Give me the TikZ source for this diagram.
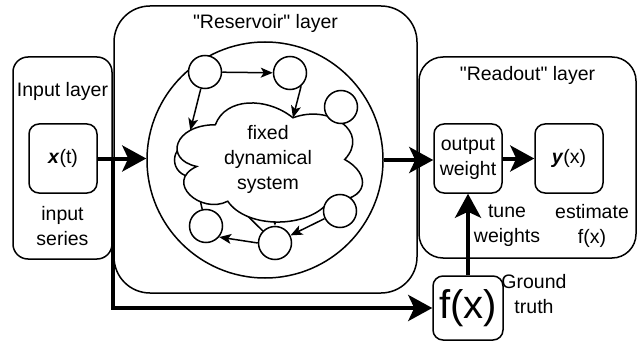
\documentclass[tikz,border=0pt]{standalone}
\usepackage{fontspec}
\setmainfont{Liberation Sans}[Ligatures=TeXOff]
\usetikzlibrary{arrows.meta}
\begin{document}
\begin{tikzpicture}[x=1pt,y=-1pt,
  txt/.style={inner sep=0pt, font=\fontsize{19.5}{25}\selectfont, align=center},
  layerbox/.style={draw, line width=1.5pt, inner sep=0pt},
  rbox/.style={draw, line width=1.5pt, rounded corners=10pt, minimum width=68pt, minimum height=69pt, inner sep=0pt, align=center, font=\fontsize{19.5}{25}\selectfont},
  nd/.style={draw, circle, line width=1.5pt, fill=white, minimum size=33pt, inner sep=0pt},
  bigarrow/.style={line width=4pt, -{Stealth[length=24pt,width=26pt,inset=6pt]}},
  smallarrow/.style={line width=1.5pt, -{Stealth[length=12pt,width=10pt,inset=3pt]}}
]
\fill[white] (0,0) rectangle (642,342);
\useasboundingbox (0,0) rectangle (642,342);

% layer boxes
\node[layerbox, rounded corners=36pt, minimum width=303pt, minimum height=287pt] (resbox) at (265.5,149.5) {};
\node[layerbox, rounded corners=15pt, minimum width=99pt, minimum height=202pt] (inbox) at (62.5,158) {};
\node[layerbox, rounded corners=24pt, minimum width=217pt, minimum height=201pt] (robox) at (527.5,157.5) {};

% layer labels
\node[txt] (tin) at (62.5,91) {Input layer};
\node[txt] (tis) at (62.5,226) {input\\series};
\node[txt] (tres) at (265.5,23) {"Reservoir" layer};
\node[txt] (tro) at (527.5,75) {"Readout" layer};
\node[txt] (ttw) at (507,226) {tune\\weights};
\node[txt] (test) at (592,226) {estimate\\f(x)};
\node[txt] (tgt) at (534,294) {Ground\\truth};

% inner boxes
\node[rbox] (xt) at (63,158.5) {\textbf{\textit{x}}(t)};
\node[rbox] (ow) at (468,158.5) {output\\weight};
\node[rbox] (yx) at (569,158.5) {\textbf{\textit{y}}(x)};
\node[rbox, minimum width=70pt, minimum height=64pt, font=\fontsize{40}{40}\selectfont] (fx) at (468,308) {f(x)};

% reservoir circle
\node[draw, circle, line width=1.5pt, minimum size=236pt, inner sep=0pt] (res) at (265,160) {};

% small nodes
\node[nd] (c1) at (205,72) {};
\node[nd] (c2) at (290,73) {};
\node[nd] (c6) at (206,226) {};
\node[nd] (c5) at (275,243) {};
\node[nd] (c7) at (191,160) {};
\coordinate (cin) at (274,195);

% connectors hidden partly by the cloud
\draw[smallarrow] (c6) -- (c7);
\draw[smallarrow] (c5) -- (c7);
\draw[smallarrow] (cin) -- (c5.north);

% cloud
\begin{scope}[shift={(163.6,90)}, x=207pt, y=-139pt]
\draw[line width=1.5pt, fill=white] (0.25,0.25) .. controls (0.05,0.25) and (0,0.5) .. (0.16,0.55)
  .. controls (0,0.66) and (0.18,0.9) .. (0.31,0.8)
  .. controls (0.4,1) and (0.7,1) .. (0.8,0.8)
  .. controls (1,0.8) and (1,0.6) .. (0.875,0.5)
  .. controls (1,0.3) and (0.8,0.1) .. (0.625,0.2)
  .. controls (0.5,0.05) and (0.3,0.05) .. (0.25,0.25) -- cycle;
\coordinate (ct) at (0.625,0.2);
\coordinate (cl) at (0.129,0.29);
\end{scope}
\node[txt] (dyn) at (268,159) {fixed\\dynamical\\system};

\node[nd] (c3) at (341,107) {};
\node[nd] (c4) at (340,211) {};

% visible small connectors
\draw[smallarrow] (c1) -- (c2);
\draw[smallarrow] (c1) -- (cl);
\draw[smallarrow] (c2.-50) -- (ct);
\draw[smallarrow] (c4) -- (c5);
\draw[smallarrow] (c5.west) -- (c6.-40);

% thick connectors
\coordinate (split) at (113,158.5);
\draw[bigarrow] (xt.east) -- (xt.east -| res.west);
\draw[bigarrow] (split) |- (fx.west);
\draw[bigarrow] (res.east) -- (res.east -| ow.west);
\draw[bigarrow] (ow) -- (yx);
\draw[bigarrow] (fx) -- (ow);
\end{tikzpicture}
\end{document}
